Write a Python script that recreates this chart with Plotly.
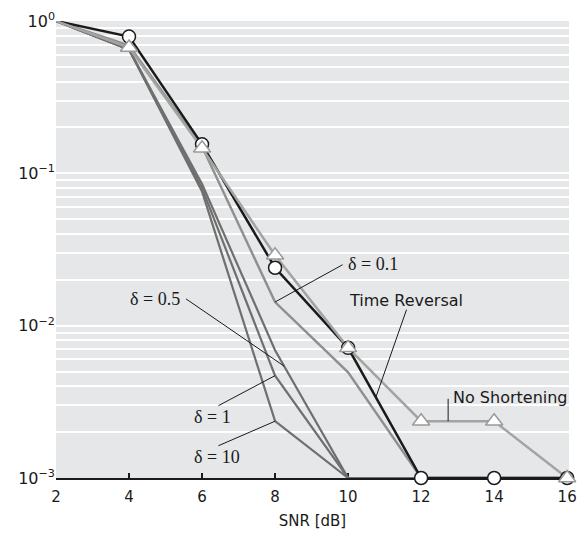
import math
import plotly.graph_objects as go

snr = [2, 4, 6, 8, 10, 12, 14, 16]

time_reversal = [1.0, 0.79, 0.155, 0.024, 0.00715, 0.001, 0.001, 0.001]
no_shortening = [1.0, 0.67, 0.146, 0.029, 0.00715, 0.00236, 0.00236, 0.001]
delta_01 = [1.0, 0.69, 0.15, 0.0143, 0.00494, 0.001, 0.001, 0.001]
delta_05 = [1.0, 0.65, 0.085, 0.0069, 0.001, 0.001, 0.001, 0.001]
delta_1 = [1.0, 0.65, 0.08, 0.0047, 0.001, 0.001, 0.001, 0.001]
delta_10 = [1.0, 0.65, 0.076, 0.00236, 0.001, 0.001, 0.001, 0.001]

decade_vals = [1e-3, 1e-2, 1e-1, 1.0]
decade_text = ["10<sup>\u22123</sup>", "10<sup>\u22122</sup>", "10<sup>\u22121</sup>", "10<sup>0</sup>"]
x_ticks = [2, 4, 6, 8, 10, 12, 14, 16]


def interp(xs, ys, x):
    for i in range(len(xs) - 1):
        if xs[i] <= x <= xs[i + 1]:
            t = (x - xs[i]) / (xs[i + 1] - xs[i])
            lg = math.log10(ys[i]) + t * (math.log10(ys[i + 1]) - math.log10(ys[i]))
            return 10 ** lg
    return ys[-1]


fig = go.Figure()

dark = "#6f6f6f"
for ys in (delta_10, delta_1, delta_05):
    fig.add_trace(go.Scatter(x=snr, y=ys, mode="lines",
                             line=dict(color=dark, width=2.2), cliponaxis=False,
                             showlegend=False))
fig.add_trace(go.Scatter(x=snr, y=delta_01, mode="lines",
                         line=dict(color="#8f8f8f", width=2.4), cliponaxis=False,
                         showlegend=False))
fig.add_trace(go.Scatter(x=snr, y=time_reversal, mode="lines",
                         line=dict(color="#1a1a1a", width=2.5), cliponaxis=False,
                         showlegend=False))
fig.add_trace(go.Scatter(x=snr, y=no_shortening, mode="lines",
                         line=dict(color="#a3a3a3", width=2.5), cliponaxis=False,
                         showlegend=False))
fig.add_trace(go.Scatter(x=snr[1:], y=time_reversal[1:], mode="markers",
                         marker=dict(symbol="circle", size=13, color="white",
                                     line=dict(color="#1a1a1a", width=1.5)),
                         cliponaxis=False, showlegend=False))
fig.add_trace(go.Scatter(x=snr[1:], y=no_shortening[1:], mode="markers",
                         marker=dict(symbol="triangle-up", size=15, color="white",
                                     line=dict(color="#9a9a9a", width=1.5)),
                         cliponaxis=False, showlegend=False))

minor_vals = [m * 10 ** k for k in range(-3, 0) for m in range(2, 10)]

serif = dict(family="Liberation Serif, DejaVu Serif, serif", size=18, color="#1a1a1a")
sans = dict(family="DejaVu Sans, Verdana, sans-serif", size=16, color="#1a1a1a")

annotations = []


def pointer(x_tip, y_tip, x_tail, ylog_tail):
    fig.add_trace(go.Scatter(x=[x_tail, x_tip], y=[10 ** ylog_tail, y_tip],
                             mode="lines", line=dict(color="#1a1a1a", width=1),
                             cliponaxis=False, showlegend=False, hoverinfo="skip"))


def label(x, ylog, text, font):
    annotations.append(dict(x=x, y=ylog, xref="x", yref="y", text=text,
                            showarrow=False, font=font, xanchor="center",
                            yanchor="middle"))


label(10.69, -1.593, "\u03b4 = 0.1", serif)
pointer(8, delta_01[3], 9.85, -1.60)

label(11.58, -1.837, "Time Reversal", sans)
pointer(10.76, interp(snr, time_reversal, 10.76), 11.60, -1.895)

label(14.44, -2.473, "No Shortening", sans)
pointer(12.74, interp(snr, no_shortening, 12.74), 12.74, -2.48)

label(4.70, -1.824, "\u03b4 = 0.5", serif)
pointer(8.25, interp(snr, delta_05, 8.25), 5.56, -1.824)

label(6.29, -2.60, "\u03b4 = 1", serif)
pointer(8, delta_1[3], 6.45, -2.525)

label(6.42, -2.865, "\u03b4 = 10", serif)
pointer(8, delta_10[3], 6.45, -2.788)

fig.update_layout(
    width=587, height=537,
    margin=dict(l=56, r=10, t=14, b=56),
    paper_bgcolor="white",
    plot_bgcolor="#e6e7e8",
    annotations=annotations,
    hovermode=False,
    xaxis=dict(range=[2, 16.05], tickvals=x_ticks, ticks="inside", ticklen=5,
               tickwidth=1.5, tickcolor="#1a1a1a", showline=True,
               linecolor="#1a1a1a", linewidth=2, showgrid=False, zeroline=False,
               layer="below traces", ticklabelstandoff=4,
               tickfont=dict(family="DejaVu Sans, Verdana, sans-serif", size=15,
                             color="#1a1a1a"),
               title=dict(text="SNR [dB]", standoff=10,
                          font=dict(family="DejaVu Sans, Verdana, sans-serif",
                                    size=15, color="#1a1a1a"))),
    yaxis=dict(type="log", range=[-3, 0], tickvals=decade_vals, ticktext=decade_text,
               showgrid=True, gridcolor="white", gridwidth=1.5, ticks="",
               showline=False, zeroline=False,
               minor=dict(tickvals=minor_vals, showgrid=True, gridcolor="white",
                          gridwidth=1.5, ticks=""),
               tickfont=dict(family="DejaVu Sans, Verdana, sans-serif", size=16,
                             color="#1a1a1a")),
)

fig.write_html("out.html",
               config={"displayModeBar": False},
               post_script="document.body.style.margin='0';document.body.style.overflow='hidden';")
